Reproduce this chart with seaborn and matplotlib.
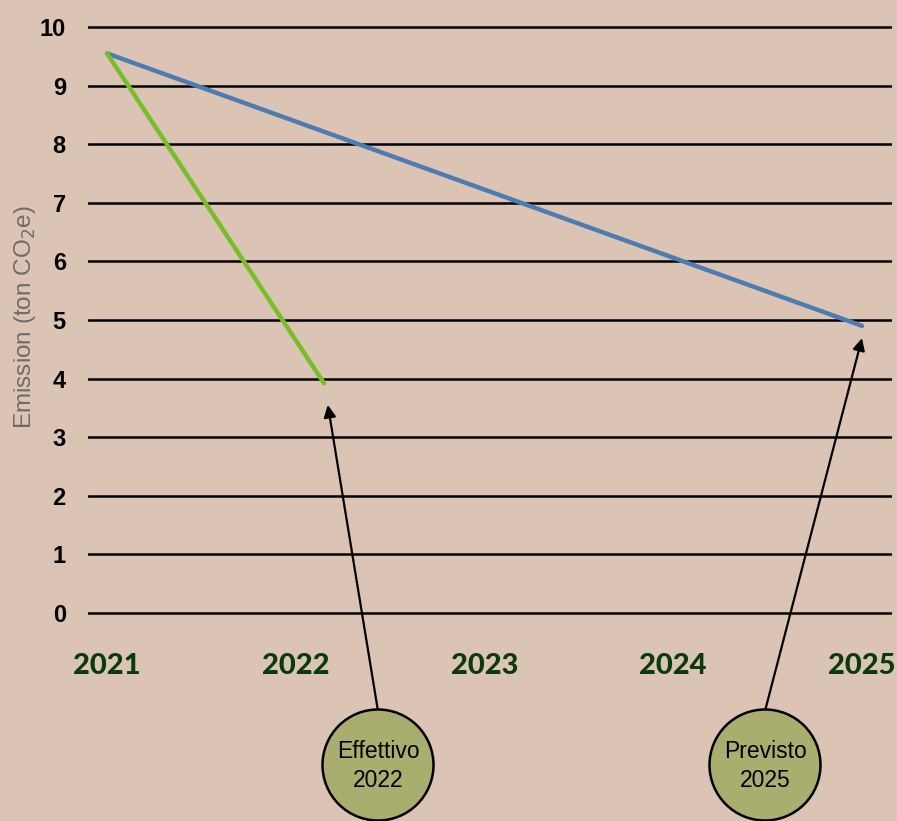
import numpy as np
import pandas as pd
import seaborn as sns
import matplotlib.pyplot as plt
from matplotlib.patches import Circle

# data
years_prev = [2021, 2025]
emis_prev = [9.55, 4.9]
years_eff = [2021, 2022.15]
emis_eff = [9.55, 3.92]
year_ticks = [2021, 2022, 2023, 2024, 2025]
y_ticks = list(range(0, 11))

bg = '#dbc4b4'
sns.set_theme(style='white')
plt.rcParams['font.family'] = ['Liberation Sans', 'DejaVu Sans']

fig = plt.figure(figsize=(8.97, 8.21), dpi=100, facecolor=bg)
ax = fig.add_axes([88 / 897, 201 / 821, 804 / 897, 600 / 821])
ax.set_facecolor(bg)

df_prev = pd.DataFrame({'year': years_prev, 'emission': emis_prev})
df_eff = pd.DataFrame({'year': years_eff, 'emission': emis_eff})
sns.lineplot(data=df_prev, x='year', y='emission', color='#4d7db0', lw=3.2,
             ax=ax, solid_capstyle='round', zorder=3)
sns.lineplot(data=df_eff, x='year', y='emission', color='#78be2a', lw=3.2,
             ax=ax, solid_capstyle='round', zorder=3)

ax.set_xlim(2021 - 19 / 188.75, 2025 + 30 / 188.75)
ax.set_ylim(-7 / 58.6, 10 + 7 / 58.6)
ax.set_yticks(y_ticks)
ax.set_yticklabels([str(v) for v in y_ticks], fontsize=17, fontweight='bold', color='black')
ax.set_xticks(year_ticks)
ax.set_xticklabels([str(v) for v in year_ticks], fontsize=21, color='#0b3a0c',
                   family=['Lato', 'DejaVu Sans'], fontweight='black')
ax.tick_params(axis='y', length=0, pad=16)
ax.tick_params(axis='x', length=0, pad=24)
ax.grid(axis='y', color='black', lw=1.8)
ax.grid(axis='x', visible=False)
for s in ax.spines.values():
    s.set_visible(False)
ax.set_xlabel('')
ax.set_ylabel('Emission (ton CO$_2$e)', fontsize=17.5, color='#6f6b68')
ax.yaxis.set_label_coords(-50 / 804, 0.505)

# bubbles with arrows
bubbles = [('Effettivo\n2022', 378, (2022.17, 3.55)),
           ('Previsto\n2025', 765, (2025.0, 4.69))]
for txt, cx, tip in bubbles:
    c = Circle((cx / 100, 0.56), 0.555, transform=fig.dpi_scale_trans,
               facecolor='#a9ad6d', edgecolor='black', lw=1.8, zorder=5)
    fig.add_artist(c)
    fig.text(cx / 897, 55 / 821, txt, ha='center', va='center', fontsize=16.5,
             color='black', linespacing=1.3, zorder=6)
    ax.annotate('', xy=tip, xycoords='data', xytext=(cx, 821 - 711),
                textcoords='figure pixels', annotation_clip=False,
                arrowprops=dict(arrowstyle='-|>,head_length=0.6,head_width=0.3',
                                color='black', lw=1.6, shrinkA=0, shrinkB=0))

fig.savefig('out.png', dpi=100, facecolor=bg)
